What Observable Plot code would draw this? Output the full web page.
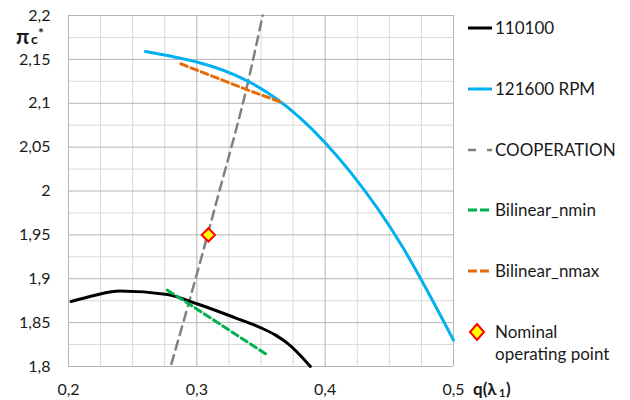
<!DOCTYPE html>
<html>
<head>
<meta charset="utf-8">
<script src="https://cdn.jsdelivr.net/npm/d3@7"></script>
<script src="https://cdn.jsdelivr.net/npm/@observablehq/plot@0.6"></script>
<style>
  html, body { margin: 0; padding: 0; background: #fff; }
  #wrap { position: relative; width: 630px; height: 400px; font-family: Lato, "Open Sans", sans-serif; color: #1a1a1a; }
  .leg { position: absolute; left: 468px; font-size: 17px; line-height: 22px; display: flex; align-items: center; white-space: nowrap; }
  .leg svg { flex: none; margin-right: 2px; }
  .lab { position: absolute; font-weight: bold; white-space: nowrap; line-height: 1; }
</style>
</head>
<body>
<div id="wrap"></div>
<script>
// ---- data ----
const xTicks = [0.2, 0.3, 0.4, 0.5];
const yTicks = [1.8, 1.85, 1.9, 1.95, 2.0, 2.05, 2.1, 2.15, 2.2];
const xMinor = [0.225, 0.25, 0.275, 0.325, 0.35, 0.375, 0.425, 0.45, 0.475];
const yMinor = [1.825, 1.875, 1.925, 1.975, 2.025, 2.075, 2.125, 2.175];

const n110100_q  = [0.202, 0.220, 0.240, 0.277, 0.300, 0.329, 0.350, 0.361, 0.371, 0.3885];
const n110100_pi = [1.874, 1.881, 1.886, 1.882, 1.8715, 1.856, 1.844, 1.836, 1.826, 1.800];

const n121600_q  = [0.260, 0.300, 0.340, 0.380, 0.420, 0.460, 0.500];
const n121600_pi = [2.159, 2.147, 2.125, 2.084, 2.021, 1.937, 1.830];

const coop_q  = [0.2802, 0.2990, 0.3174, 0.3364, 0.3513];
const coop_pi = [1.803, 1.900, 1.999, 2.103, 2.200];

const nmin_q  = [0.277, 0.290, 0.354];
const nmin_pi = [1.887, 1.875, 1.814];

const nmax_q  = [0.2875, 0.338, 0.366];
const nmax_pi = [2.145, 2.116, 2.101];

const nominal_q  = [0.309];
const nominal_pi = [1.950];

const legendLabels = ["110100", "121600 RPM", "COOPERATION", "Bilinear_nmin", "Bilinear_nmax", "Nominal operating point"];

// ---- helpers ----
const zip = (xs, ys) => xs.map((x, i) => ({q: x, pi: ys[i]}));
const fmt = v => String(+v.toFixed(3)).replace(".", ",");

const colors = {black: "#000000", blue: "#00b0f0", gray: "#808080", green: "#00b050", orange: "#e46c0a"};

const chart = Plot.plot({
  width: 630,
  height: 400,
  marginLeft: 68,
  marginRight: 177,
  marginTop: 15,
  marginBottom: 34,
  style: {fontFamily: "Lato, 'Open Sans', sans-serif", fontSize: "16px", color: "#1a1a1a", background: "#fff"},
  x: {domain: [0.2, 0.5], ticks: xTicks, tickFormat: fmt, tickSize: 0, tickPadding: 17, label: null},
  y: {domain: [1.8, 2.2], ticks: yTicks, tickFormat: fmt, tickSize: 0, tickPadding: 18, label: null},
  marks: [
    Plot.ruleX(xMinor, {stroke: "#d9d9d9", strokeWidth: 1}),
    Plot.ruleY(yMinor, {stroke: "#d9d9d9", strokeWidth: 1}),
    Plot.ruleX(xTicks, {stroke: "#b4b4b4", strokeWidth: 1}),
    Plot.ruleY(yTicks, {stroke: "#b4b4b4", strokeWidth: 1}),
    Plot.line(zip(coop_q, coop_pi), {x: "q", y: "pi", stroke: colors.gray, strokeWidth: 2.5, strokeDasharray: "9,6", curve: "monotone-y"}),
    Plot.line(zip(n110100_q, n110100_pi), {x: "q", y: "pi", stroke: colors.black, strokeWidth: 3, curve: "monotone-x"}),
    Plot.line(zip(n121600_q, n121600_pi), {x: "q", y: "pi", stroke: colors.blue, strokeWidth: 3, curve: "natural"}),
    Plot.line(zip(nmin_q, nmin_pi), {x: "q", y: "pi", stroke: colors.green, strokeWidth: 3, strokeDasharray: "7,4"}),
    Plot.line(zip(nmax_q, nmax_pi), {x: "q", y: "pi", stroke: colors.orange, strokeWidth: 3, strokeDasharray: "7,4"}),
    Plot.dot(zip(nominal_q, nominal_pi), {x: "q", y: "pi", symbol: "diamond2", r: 6, fill: "#ffff00", stroke: "#ff0000", strokeWidth: 2})
  ]
});

const wrap = document.getElementById("wrap");
wrap.appendChild(chart);

// axis labels
function lab(text, left, top, size) {
  const d = document.createElement("div");
  d.className = "lab";
  d.style.left = left + "px"; d.style.top = top + "px"; d.style.fontSize = size + "px";
  d.textContent = text;
  wrap.appendChild(d);
}
lab("π", 16, 25, 21);
lab("c", 31, 32, 14);
lab("*", 38, 26, 14);
lab("q(λ", 473, 380, 17);
lab("1", 499, 387, 11);
lab(")", 506, 380, 17);

// legend
function sample(color, dash, width) {
  return `<svg width="25" height="6"><line x1="0" y1="3" x2="24" y2="3" stroke="${color}" stroke-width="${width}" ${dash ? `stroke-dasharray="${dash}"` : ""}/></svg>`;
}
const legendItems = [
  {y: 17, html: sample(colors.black, null, 3) + legendLabels[0]},
  {y: 78, html: sample(colors.blue, null, 3) + legendLabels[1]},
  {y: 139, html: sample(colors.gray, "8,11", 2.5) + legendLabels[2]},
  {y: 199, html: sample(colors.green, "9,3", 3) + legendLabels[3]},
  {y: 260, html: sample(colors.orange, "9,3", 3) + legendLabels[4]},
];
for (const it of legendItems) {
  const d = document.createElement("div");
  d.className = "leg";
  d.style.top = it.y + "px";
  d.innerHTML = it.html;
  wrap.appendChild(d);
}
const nom = document.createElement("div");
nom.className = "leg";
nom.style.top = "321px";
nom.style.alignItems = "flex-start";
nom.innerHTML = `<svg width="25" height="22"><path d="M7,3 L14,11 L7,19 L0,11 Z" transform="translate(2,0)" fill="#ffff00" stroke="#ff0000" stroke-width="2"/></svg><span>Nominal<br>operating point</span>`;
wrap.appendChild(nom);
</script>
</body>
</html>
